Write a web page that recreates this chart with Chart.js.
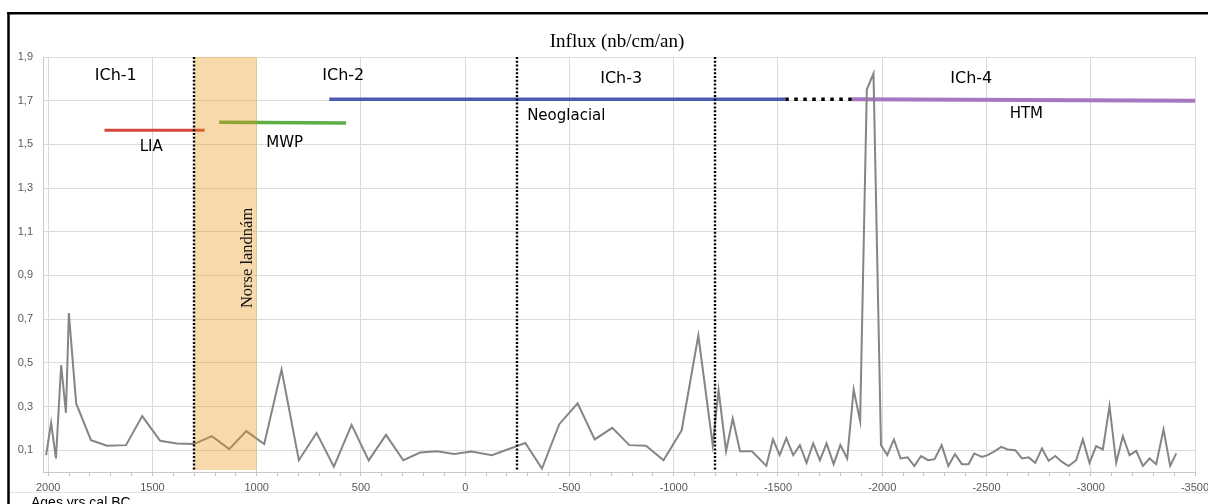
<!DOCTYPE html>
<html><head><meta charset="utf-8">
<script src="https://cdn.jsdelivr.net/npm/chart.js@4.4.1/dist/chart.umd.min.js"></script>
<style>
html,body{margin:0;padding:0;background:#fff;overflow:hidden}
#wrap{position:relative;width:1208px;height:504px;overflow:hidden}
canvas{display:block}
</style></head><body>
<div id="wrap"><canvas id="c" width="1230" height="504"></canvas></div>
<script>
// ---- data (ages, yrs cal BC; influx nb/cm/an) ----
const years = [2010,1986,1963,1938,1915,1901,1866,1795,1718,1627,1549,1463,1383,1301,1215,1132,1050,964,881,798,713,630,545,463,380,297,216,136,53,-30,-128,-288,-368,-451,-539,-621,-705,-787,-867,-951,-1038,-1118,-1187,-1215,-1251,-1283,-1318,-1375,-1444,-1476,-1508,-1540,-1573,-1605,-1637,-1669,-1701,-1733,-1767,-1799,-1832,-1863,-1894,-1926,-1958,-1994,-2024,-2056,-2088,-2122,-2154,-2186,-2220,-2251,-2285,-2317,-2349,-2382,-2414,-2441,-2478,-2505,-2534,-2571,-2601,-2638,-2670,-2702,-2734,-2766,-2798,-2830,-2862,-2894,-2930,-2962,-2994,-3026,-3058,-3090,-3122,-3154,-3186,-3218,-3250,-3282,-3314,-3349,-3381,-3410];
const influx = [0.077,0.225,0.062,0.489,0.271,0.728,0.314,0.146,0.120,0.123,0.256,0.143,0.131,0.128,0.164,0.105,0.187,0.128,0.469,0.054,0.179,0.024,0.216,0.053,0.170,0.054,0.089,0.095,0.082,0.094,0.077,0.133,0.016,0.219,0.314,0.149,0.202,0.123,0.120,0.054,0.191,0.626,0.123,0.375,0.095,0.245,0.095,0.095,0.028,0.149,0.077,0.155,0.077,0.123,0.042,0.131,0.054,0.131,0.036,0.123,0.062,0.378,0.233,1.751,1.824,0.123,0.077,0.149,0.062,0.067,0.027,0.073,0.054,0.059,0.123,0.027,0.082,0.036,0.036,0.085,0.069,0.077,0.092,0.115,0.103,0.100,0.062,0.067,0.042,0.108,0.051,0.073,0.046,0.027,0.054,0.149,0.042,0.118,0.103,0.301,0.042,0.164,0.077,0.097,0.028,0.062,0.036,0.195,0.028,0.085];

const yTickValues = [0.1,0.3,0.5,0.7,0.9,1.1,1.3,1.5,1.7,1.9];
const xLabelValues = [2000,1500,1000,500,0,-500,-1000,-1500,-2000,-2500,-3000,-3500];
const xMinorStep = 100;

// climatic periods (age ranges and drawing level)
const liaAges = [1730, 1250];   const liaLevel = [1.565, 1.565];
const mwpAges = [1180, 571];    const mwpLevel = [1.601, 1.598];
const neoAges = [652, -1535];   const neoLevel = [1.706, 1.706];
const gapAges = [-1535, -1855]; const gapLevel = [1.706, 1.706];
const htmAges = [-1855, -3500]; const htmLevel = [1.706, 1.700];

const zoneBounds = [1300, -250, -1200];
const norseAges = [1300, 1000];

const zoneLabels = ['ICh-1','ICh-2','ICh-3','ICh-4'];
const periodLabels = ['LIA','MWP','Neoglacial','HTM'];

// ---- label placement (separate from the data) ----
const zoneLabelPos = [[1676,1.816],[585,1.816],[-748,1.800],[-2427,1.798]];
const periodLabelPos = [[1506,1.486,'center'],[866,1.507,'center'],[-297,1.630,'left'],[-2691,1.640,'center']];

function pts(xs, ys){ return xs.map((v,i)=>({x:v, y:ys[i]})); }

const overlay = {
  id:'overlay',
  afterDatasetsDraw(chart){
    const {ctx, chartArea:a, scales:{x,y}} = chart;
    ctx.save();
    // Norse landnam band
    const b0 = x.getPixelForValue(norseAges[0]), b1 = x.getPixelForValue(norseAges[1]);
    ctx.fillStyle = 'rgba(232,150,22,0.36)';
    ctx.fillRect(b0, a.top, b1-b0, a.bottom-2-a.top);
    // zone boundaries
    ctx.strokeStyle = '#000'; ctx.lineWidth = 2.4; ctx.setLineDash([2,1.8]);
    zoneBounds.forEach(v=>{
      const px = Math.round(x.getPixelForValue(v));
      ctx.beginPath(); ctx.moveTo(px, a.top); ctx.lineTo(px, a.bottom-2); ctx.stroke();
    });
    ctx.setLineDash([]);
    // zone labels
    ctx.fillStyle = '#000';
    ctx.textBaseline = 'middle'; ctx.textAlign = 'center';
    ctx.font = '16px "DejaVu Sans"';
    zoneLabels.forEach((t,i)=>{
      ctx.fillText(t, x.getPixelForValue(zoneLabelPos[i][0]), y.getPixelForValue(zoneLabelPos[i][1]));
    });
    ctx.font = '15px "DejaVu Sans"';
    periodLabels.forEach((t,i)=>{
      ctx.textAlign = periodLabelPos[i][2];
      ctx.fillText(t, x.getPixelForValue(periodLabelPos[i][0]), y.getPixelForValue(periodLabelPos[i][1]));
    });
    // Norse landnam vertical label
    ctx.save();
    ctx.translate(x.getPixelForValue(1041), y.getPixelForValue(0.98));
    ctx.rotate(-Math.PI/2);
    ctx.textAlign = 'center'; ctx.textBaseline = 'middle';
    ctx.font = '16.5px "Liberation Serif"';
    ctx.fillStyle = '#111';
    ctx.fillText('Norse landnám', 0, 0);
    ctx.restore();
    // title
    ctx.textAlign = 'center'; ctx.textBaseline = 'alphabetic';
    ctx.font = '19px "Liberation Serif"';
    ctx.fillStyle = '#000';
    ctx.fillText('Influx (nb/cm/an)', 617, 47);
    // axis caption
    ctx.textAlign = 'left';
    ctx.font = '14px "Liberation Sans"';
    ctx.fillText('Ages yrs cal BC', 31, 507);
    // faint outer line
    ctx.strokeStyle = '#e4e4e4'; ctx.lineWidth = 1;
    ctx.beginPath(); ctx.moveTo(10, 492.5); ctx.lineTo(1230, 492.5); ctx.stroke();
    // frame: left edge and top edge, drawn as separate open strokes
    ctx.strokeStyle = '#000'; ctx.lineWidth = 2.5; ctx.lineCap = 'butt';
    ctx.beginPath(); ctx.moveTo(8.5, 520); ctx.lineTo(8.5, 12); ctx.stroke();
    ctx.beginPath(); ctx.moveTo(7.25, 13.2); ctx.lineTo(1230, 13.2); ctx.stroke();
    ctx.restore();
  }
};

Chart.defaults.font.family = '"Liberation Sans"';

new Chart(document.getElementById('c'), {
  type: 'scatter',
  data: {
    datasets: [
      { label:'Influx', data: pts(years, influx), showLine:true, borderColor:'#858585', borderWidth:2, pointRadius:0, tension:0 },
      { label:'LIA', data: pts(liaAges, liaLevel), showLine:true, borderColor:'#d2473a', borderWidth:3, pointRadius:0 },
      { label:'MWP', data: pts(mwpAges, mwpLevel), showLine:true, borderColor:'#5cae45', borderWidth:3.5, pointRadius:0 },
      { label:'Neoglacial', data: pts(neoAges, neoLevel), showLine:true, borderColor:'#4a5ab0', borderWidth:3.5, pointRadius:0 },
      { label:'gap', data: pts(gapAges, gapLevel), showLine:true, borderColor:'#000', borderWidth:3.5, borderDash:[3.5,5.5], pointRadius:0 },
      { label:'HTM', data: pts(htmAges, htmLevel), showLine:true, borderColor:'#a777bf', borderWidth:4, pointRadius:0 }
    ]
  },
  options: {
    responsive:false, animation:false,
    layout:{ padding:{ top:57, right:35, bottom:0, left:0 } },
    plugins:{ legend:{display:false}, tooltip:{enabled:false}, title:{display:false} },
    scales:{
      x:{
        type:'linear', reverse:true, min:-3500, max:2025,
        afterBuildTicks: s => {
          const t = [];
          for (let v = -3500; v <= 2000; v += xMinorStep) t.push({value:v});
          s.ticks = t;
        },
        afterFit: s => { s.height = 32; },
        grid:{
          color: c => (c.tick && xLabelValues.includes(c.tick.value)) ? '#d9d9d9' : 'rgba(0,0,0,0)',
          tickColor:'#c4c4c4', tickLength:4, drawTicks:true
        },
        border:{ display:true, color:'#c8c8c8' },
        ticks:{ autoSkip:false, maxRotation:0, padding:5, color:'#595959', font:{size:11},
          callback: v => xLabelValues.includes(v) ? String(v) : '' }
      },
      y:{
        type:'linear', min:0, max:1.9,
        afterBuildTicks: s => { s.ticks = yTickValues.map(v=>({value:v})); },
        afterFit: s => { s.width = 43; },
        grid:{ color:'#dcdcdc', drawTicks:false },
        border:{ display:true, color:'#c8c8c8' },
        ticks:{ padding:10, color:'#595959', font:{size:11},
          callback: v => Number(v).toFixed(1).replace('.', ',') }
      }
    }
  },
  plugins:[overlay]
});
</script>
</body></html>
